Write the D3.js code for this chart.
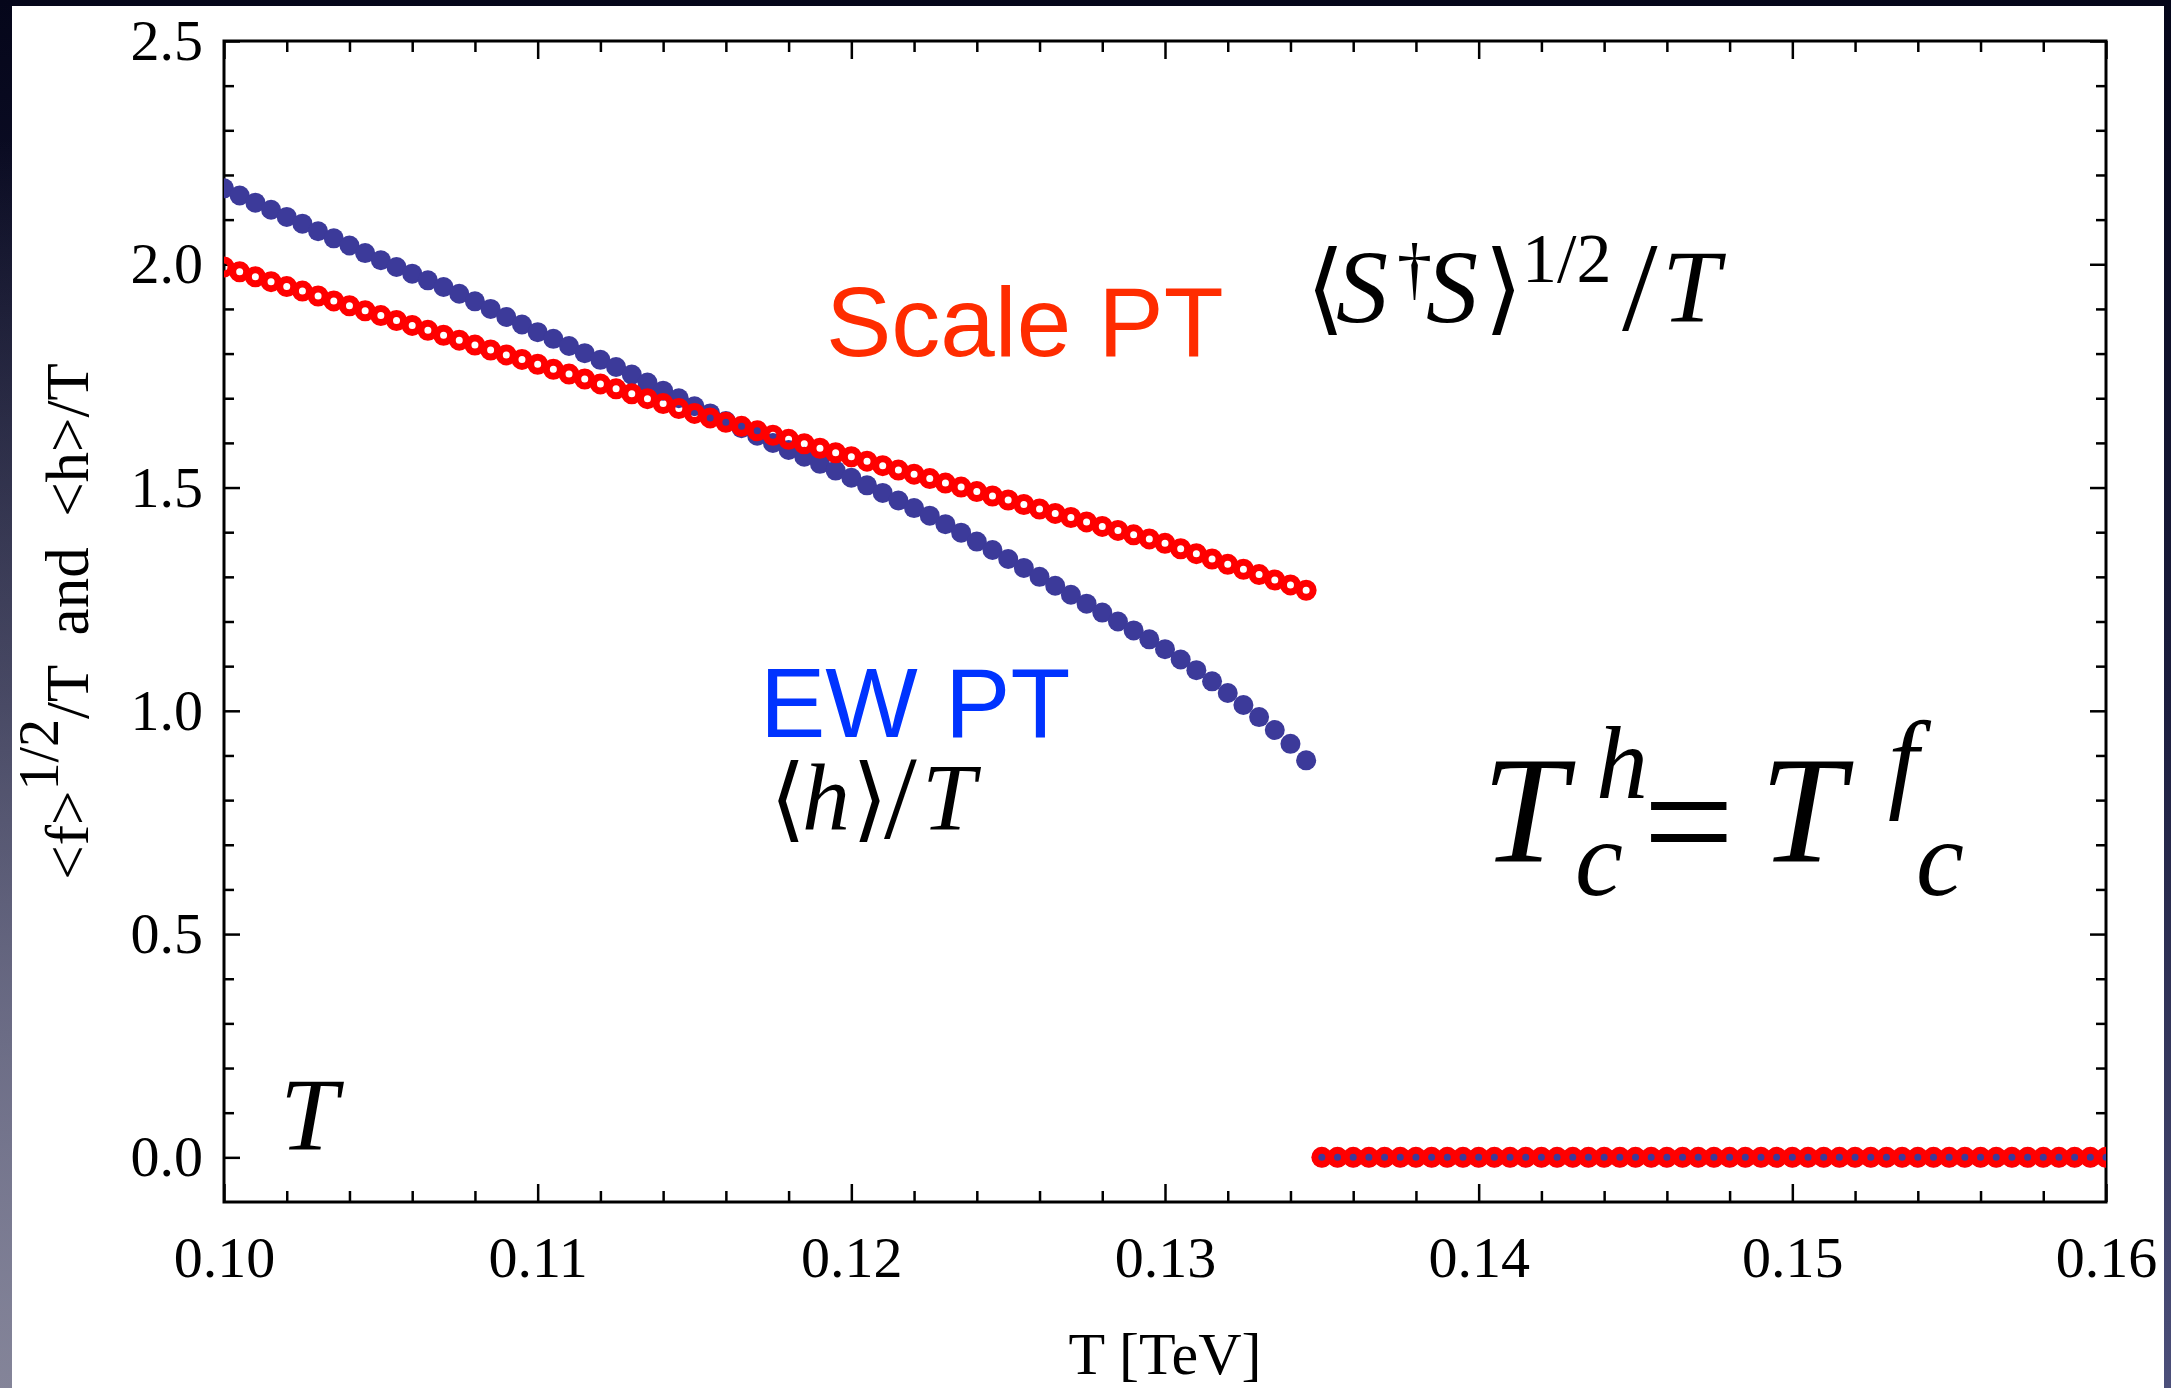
<!DOCTYPE html>
<html>
<head>
<meta charset="utf-8">
<script src="https://cdn.jsdelivr.net/npm/d3@7"></script>
<style>
  html, body { margin: 0; padding: 0; background: #0a0b1e; }
  svg { display: block; }
</style>
</head>
<body>
<svg></svg>
<script>
const width = 2171;
const height = 1388;
const margin = { top: 41, right: 65, bottom: 186, left: 224 };

// broken phase: T [TeV] and the two order parameters
const tBroken = [
  0.1000, 0.1005, 0.1010, 0.1015, 0.1020, 0.1025, 0.1030, 0.1035, 0.1040, 0.1045,
  0.1050, 0.1055, 0.1060, 0.1065, 0.1070, 0.1075, 0.1080, 0.1085, 0.1090, 0.1095,
  0.1100, 0.1105, 0.1110, 0.1115, 0.1120, 0.1125, 0.1130, 0.1135, 0.1140, 0.1145,
  0.1150, 0.1155, 0.1160, 0.1165, 0.1170, 0.1175, 0.1180, 0.1185, 0.1190, 0.1195,
  0.1200, 0.1205, 0.1210, 0.1215, 0.1220, 0.1225, 0.1230, 0.1235, 0.1240, 0.1245,
  0.1250, 0.1255, 0.1260, 0.1265, 0.1270, 0.1275, 0.1280, 0.1285, 0.1290, 0.1295,
  0.1300, 0.1305, 0.1310, 0.1315, 0.1320, 0.1325, 0.1330, 0.1335, 0.1340, 0.1345
];
// <h>/T (blue, filled)
const hBroken = [
  2.170, 2.154, 2.138, 2.122, 2.106, 2.091, 2.074, 2.058, 2.042, 2.025,
  2.009, 1.994, 1.979, 1.964, 1.949, 1.934, 1.917, 1.900, 1.882, 1.865,
  1.848, 1.833, 1.817, 1.801, 1.786, 1.770, 1.753, 1.735, 1.717, 1.700,
  1.682, 1.666, 1.649, 1.633, 1.616, 1.600, 1.584, 1.569, 1.553, 1.538,
  1.522, 1.505, 1.488, 1.471, 1.454, 1.437, 1.418, 1.399, 1.379, 1.360,
  1.340, 1.320, 1.300, 1.280, 1.260, 1.240, 1.220, 1.200, 1.180, 1.160,
  1.138, 1.115, 1.091, 1.066, 1.040, 1.013, 0.986, 0.957, 0.926, 0.889
];
// <f>^(1/2)/T (red, open)
const fBroken = [
  1.994, 1.983, 1.972, 1.961, 1.950, 1.940, 1.929, 1.918, 1.907, 1.896,
  1.885, 1.874, 1.863, 1.852, 1.841, 1.830, 1.819, 1.808, 1.797, 1.787,
  1.776, 1.765, 1.754, 1.743, 1.732, 1.721, 1.710, 1.699, 1.688, 1.677,
  1.666, 1.656, 1.646, 1.637, 1.627, 1.617, 1.608, 1.598, 1.588, 1.578,
  1.569, 1.559, 1.549, 1.539, 1.530, 1.520, 1.510, 1.501, 1.491, 1.481,
  1.472, 1.462, 1.452, 1.442, 1.433, 1.423, 1.413, 1.404, 1.394, 1.385,
  1.375, 1.363, 1.352, 1.340, 1.328, 1.317, 1.305, 1.293, 1.282, 1.270
];

// symmetric phase: both vanish
const tSym = [
  0.1350, 0.1355, 0.1360, 0.1365, 0.1370, 0.1375, 0.1380, 0.1385, 0.1390, 0.1395,
  0.1400, 0.1405, 0.1410, 0.1415, 0.1420, 0.1425, 0.1430, 0.1435, 0.1440, 0.1445,
  0.1450, 0.1455, 0.1460, 0.1465, 0.1470, 0.1475, 0.1480, 0.1485, 0.1490, 0.1495,
  0.1500, 0.1505, 0.1510, 0.1515, 0.1520, 0.1525, 0.1530, 0.1535, 0.1540, 0.1545,
  0.1550, 0.1555, 0.1560, 0.1565, 0.1570, 0.1575, 0.1580, 0.1585, 0.1590, 0.1595,
  0.1600
];
const hSym = [
  0, 0, 0, 0, 0, 0, 0, 0, 0, 0, 0, 0, 0, 0, 0, 0, 0, 0, 0, 0, 0, 0, 0, 0, 0, 0,
  0, 0, 0, 0, 0, 0, 0, 0, 0, 0, 0, 0, 0, 0, 0, 0, 0, 0, 0, 0, 0, 0, 0, 0, 0
];
const fSym = [
  0, 0, 0, 0, 0, 0, 0, 0, 0, 0, 0, 0, 0, 0, 0, 0, 0, 0, 0, 0, 0, 0, 0, 0, 0, 0,
  0, 0, 0, 0, 0, 0, 0, 0, 0, 0, 0, 0, 0, 0, 0, 0, 0, 0, 0, 0, 0, 0, 0, 0, 0
];

const xTicks = [0.10, 0.11, 0.12, 0.13, 0.14, 0.15, 0.16];
const yTicks = [0.0, 0.5, 1.0, 1.5, 2.0, 2.5];

const serif = "'Liberation Serif', 'Times New Roman', serif";
const sans = "'Liberation Sans', Arial, Helvetica, sans-serif";

const svg = d3.select("svg").attr("width", width).attr("height", height);

// background: dark slide + white figure
const defs = svg.append("defs");
const bg = defs.append("linearGradient").attr("id", "bg")
  .attr("x1", 0).attr("y1", 0).attr("x2", 0).attr("y2", 1);
bg.append("stop").attr("offset", 0).attr("stop-color", "#05061a");
bg.append("stop").attr("offset", 0.5).attr("stop-color", "#1b1d3e");
bg.append("stop").attr("offset", 1).attr("stop-color", "#4c4f7a");
const glow = defs.append("radialGradient").attr("id", "glow")
  .attr("cx", 0).attr("cy", 1).attr("r", 0.9);
glow.append("stop").attr("offset", 0).attr("stop-color", "#8a8a9c").attr("stop-opacity", 0.9);
glow.append("stop").attr("offset", 1).attr("stop-color", "#8a8a9c").attr("stop-opacity", 0);

svg.append("rect").attr("width", width).attr("height", height).attr("fill", "url(#bg)");
svg.append("rect").attr("width", width).attr("height", height).attr("fill", "url(#glow)");
svg.append("rect").attr("x", 12).attr("y", 6).attr("width", 2152).attr("height", height)
  .attr("fill", "#fff");

const x = d3.scaleLinear()
  .domain([0.10, 0.16])
  .range([margin.left, width - margin.right]);

const y = d3.scaleLinear()
  .domain([-0.1, 2.5])
  .range([height - margin.bottom, margin.top]);

const x0 = margin.left, x1 = width - margin.right;
const y0 = height - margin.bottom, y1 = margin.top;

// minor ticks
const xMinor = d3.range(50, 81).filter(i => i % 5 !== 0).map(i => i * 0.002);
const yMinor = d3.range(0, 26).filter(i => i % 5 !== 0).map(i => i / 10);

function styleAxis(g) {
  g.select(".domain").remove();
  g.selectAll(".tick line").attr("stroke", "#000").attr("stroke-width", 2.5);
  g.attr("font-family", serif).attr("font-size", 58);
  g.selectAll(".tick text").attr("fill", "#000");
}

// bottom
svg.append("g").attr("transform", `translate(0,${y0})`)
  .call(d3.axisBottom(x).tickValues(xTicks).tickSize(-18).tickPadding(34)
    .tickFormat(d3.format(".2f")))
  .call(styleAxis);
svg.append("g").attr("transform", `translate(0,${y0})`)
  .call(d3.axisBottom(x).tickValues(xMinor).tickSize(-11).tickFormat(""))
  .call(styleAxis);
// top
svg.append("g").attr("transform", `translate(0,${y1})`)
  .call(d3.axisTop(x).tickValues(xTicks).tickSize(-18).tickFormat(""))
  .call(styleAxis);
svg.append("g").attr("transform", `translate(0,${y1})`)
  .call(d3.axisTop(x).tickValues(xMinor).tickSize(-11).tickFormat(""))
  .call(styleAxis);
// left
svg.append("g").attr("transform", `translate(${x0},0)`)
  .call(d3.axisLeft(y).tickValues(yTicks).tickSize(-16).tickPadding(21)
    .tickFormat(d3.format(".1f")))
  .call(styleAxis);
svg.append("g").attr("transform", `translate(${x0},0)`)
  .call(d3.axisLeft(y).tickValues(yMinor).tickSize(-10).tickFormat(""))
  .call(styleAxis);
// right
svg.append("g").attr("transform", `translate(${x1},0)`)
  .call(d3.axisRight(y).tickValues(yTicks).tickSize(-16).tickFormat(""))
  .call(styleAxis);
svg.append("g").attr("transform", `translate(${x1},0)`)
  .call(d3.axisRight(y).tickValues(yMinor).tickSize(-10).tickFormat(""))
  .call(styleAxis);

// frame
svg.append("rect")
  .attr("x", x0).attr("y", y1).attr("width", x1 - x0).attr("height", y0 - y1)
  .attr("fill", "none").attr("stroke", "#000").attr("stroke-width", 3);

// points
defs.append("clipPath").attr("id", "plot")
  .append("rect").attr("x", x0).attr("y", y1).attr("width", x1 - x0).attr("height", y0 - y1);
const pts = svg.append("g").attr("clip-path", "url(#plot)");

const hData = tBroken.map((t, i) => [t, hBroken[i]]).concat(tSym.map((t, i) => [t, hSym[i]]));
const fData = tBroken.map((t, i) => [t, fBroken[i]]).concat(tSym.map((t, i) => [t, fSym[i]]));

pts.append("g").selectAll("circle").data(hData).join("circle")
  .attr("cx", d => x(d[0])).attr("cy", d => y(d[1])).attr("r", 10)
  .attr("fill", "#3c3a9a");

pts.append("g").selectAll("circle").data(fData).join("circle")
  .attr("cx", d => x(d[0])).attr("cy", d => y(d[1])).attr("r", 7)
  .attr("fill", "none").attr("stroke", "#ff0000").attr("stroke-width", 7);

// axis titles
svg.append("text")
  .attr("x", (x0 + x1) / 2).attr("y", 1374)
  .attr("text-anchor", "middle")
  .attr("font-family", serif).attr("font-size", 60)
  .text("T [TeV]");

const ylab = svg.append("text")
  .attr("transform", `translate(88,${(y0 + y1) / 2}) rotate(-90)`)
  .attr("text-anchor", "middle")
  .attr("font-family", serif).attr("font-size", 61)
  .style("white-space", "pre");
ylab.append("tspan").text("<f>");
ylab.append("tspan").attr("dy", -30).attr("font-size", 56).text("1/2");
ylab.append("tspan").attr("dy", 30).text("/T  and  <h>/T");

// annotations
svg.append("text").attr("x", 826).attr("y", 356)
  .attr("font-family", sans).attr("font-size", 98).attr("fill", "#ff2c00")
  .text("Scale PT");
svg.append("text").attr("x", 760).attr("y", 737)
  .attr("font-family", sans).attr("font-size", 98).attr("fill", "#0033ff")
  .text("EW PT");

const mathFont = serif;
const bracketFont = "'DejaVu Serif', 'DejaVu Sans', serif";

// <S†S>^(1/2)/T
const sLab = svg.append("text").attr("font-family", mathFont).attr("font-size", 104).attr("y", 322);
sLab.append("tspan").attr("x", 1306).attr("font-family", bracketFont).attr("font-size", 100).text("\u27E8");
sLab.append("tspan").attr("x", 1336).attr("font-style", "italic").text("S");
sLab.append("tspan").attr("x", 1397).attr("y", 292).attr("font-size", 70).text("\u2020");
sLab.append("tspan").attr("x", 1426).attr("y", 322).attr("font-style", "italic").text("S");
sLab.append("tspan").attr("x", 1484).attr("font-family", bracketFont).attr("font-size", 100).text("\u27E9");
sLab.append("tspan").attr("x", 1522).attr("y", 282).attr("font-size", 70).text("1/2");
sLab.append("tspan").attr("x", 1622).attr("y", 330).attr("font-size", 128).text("/");
sLab.append("tspan").attr("x", 1662).attr("y", 322).attr("font-style", "italic").text("T");

// <h>/T
const hLab = svg.append("text").attr("font-family", mathFont).attr("font-size", 96).attr("y", 830);
hLab.append("tspan").attr("x", 770).attr("font-family", bracketFont).attr("font-size", 92).text("\u27E8");
hLab.append("tspan").attr("x", 802).attr("font-style", "italic").text("h");
hLab.append("tspan").attr("x", 852).attr("font-family", bracketFont).attr("font-size", 92).text("\u27E9");
hLab.append("tspan").attr("x", 884).attr("y", 838).attr("font-size", 118).text("/");
hLab.append("tspan").attr("x", 922).attr("y", 830).attr("font-style", "italic").text("T");

// T_c^h = T_c^f
const tc = svg.append("text").attr("font-family", mathFont).attr("font-size", 152);
tc.append("tspan").attr("x", 1482).attr("y", 862).attr("font-style", "italic").text("T");
tc.append("tspan").attr("x", 1596).attr("y", 798).attr("font-size", 104).attr("font-style", "italic").text("h");
tc.append("tspan").attr("x", 1575).attr("y", 895).attr("font-size", 108).attr("font-style", "italic").text("c");
tc.append("tspan").attr("x", 1643).attr("y", 875).attr("font-size", 162).text("=");
tc.append("tspan").attr("x", 1760).attr("y", 862).attr("font-style", "italic").text("T");
tc.append("tspan").attr("x", 1888).attr("y", 798).attr("font-size", 110).attr("font-style", "italic").text("f");
tc.append("tspan").attr("x", 1916).attr("y", 895).attr("font-size", 108).attr("font-style", "italic").text("c");

// lone T bottom left
svg.append("text").attr("x", 280).attr("y", 1150)
  .attr("font-family", mathFont).attr("font-size", 104).attr("font-style", "italic")
  .text("T");
</script>
</body>
</html>
